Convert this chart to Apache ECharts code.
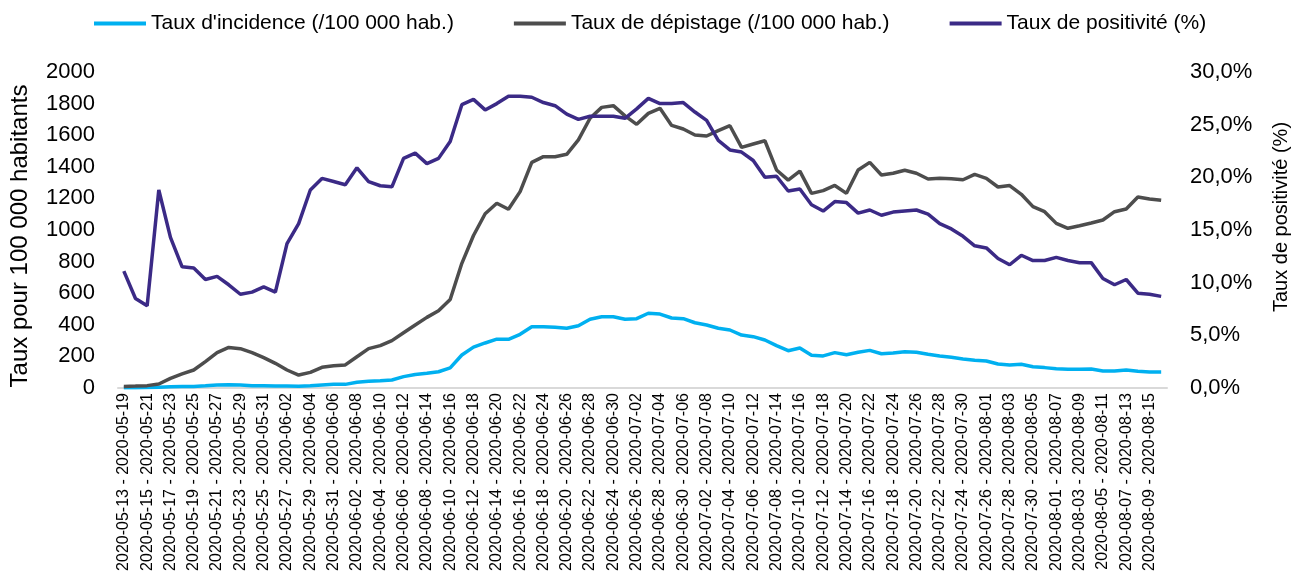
<!DOCTYPE html>
<html>
<head>
<meta charset="utf-8">
<script src="https://cdn.jsdelivr.net/npm/echarts@6/dist/echarts.min.js"></script>
<style>
  html, body { margin: 0; padding: 0; background: #fff; }
  #container { width: 1302px; height: 580px; }
</style>
</head>
<body>
<div id="container"></div>
<script>
// semaines glissantes (7 jours)
const categories = [
  '2020-05-13 - 2020-05-19', '2020-05-14 - 2020-05-20', '2020-05-15 - 2020-05-21', '2020-05-16 - 2020-05-22',
  '2020-05-17 - 2020-05-23', '2020-05-18 - 2020-05-24', '2020-05-19 - 2020-05-25', '2020-05-20 - 2020-05-26',
  '2020-05-21 - 2020-05-27', '2020-05-22 - 2020-05-28', '2020-05-23 - 2020-05-29', '2020-05-24 - 2020-05-30',
  '2020-05-25 - 2020-05-31', '2020-05-26 - 2020-06-01', '2020-05-27 - 2020-06-02', '2020-05-28 - 2020-06-03',
  '2020-05-29 - 2020-06-04', '2020-05-30 - 2020-06-05', '2020-05-31 - 2020-06-06', '2020-06-01 - 2020-06-07',
  '2020-06-02 - 2020-06-08', '2020-06-03 - 2020-06-09', '2020-06-04 - 2020-06-10', '2020-06-05 - 2020-06-11',
  '2020-06-06 - 2020-06-12', '2020-06-07 - 2020-06-13', '2020-06-08 - 2020-06-14', '2020-06-09 - 2020-06-15',
  '2020-06-10 - 2020-06-16', '2020-06-11 - 2020-06-17', '2020-06-12 - 2020-06-18', '2020-06-13 - 2020-06-19',
  '2020-06-14 - 2020-06-20', '2020-06-15 - 2020-06-21', '2020-06-16 - 2020-06-22', '2020-06-17 - 2020-06-23',
  '2020-06-18 - 2020-06-24', '2020-06-19 - 2020-06-25', '2020-06-20 - 2020-06-26', '2020-06-21 - 2020-06-27',
  '2020-06-22 - 2020-06-28', '2020-06-23 - 2020-06-29', '2020-06-24 - 2020-06-30', '2020-06-25 - 2020-07-01',
  '2020-06-26 - 2020-07-02', '2020-06-27 - 2020-07-03', '2020-06-28 - 2020-07-04', '2020-06-29 - 2020-07-05',
  '2020-06-30 - 2020-07-06', '2020-07-01 - 2020-07-07', '2020-07-02 - 2020-07-08', '2020-07-03 - 2020-07-09',
  '2020-07-04 - 2020-07-10', '2020-07-05 - 2020-07-11', '2020-07-06 - 2020-07-12', '2020-07-07 - 2020-07-13',
  '2020-07-08 - 2020-07-14', '2020-07-09 - 2020-07-15', '2020-07-10 - 2020-07-16', '2020-07-11 - 2020-07-17',
  '2020-07-12 - 2020-07-18', '2020-07-13 - 2020-07-19', '2020-07-14 - 2020-07-20', '2020-07-15 - 2020-07-21',
  '2020-07-16 - 2020-07-22', '2020-07-17 - 2020-07-23', '2020-07-18 - 2020-07-24', '2020-07-19 - 2020-07-25',
  '2020-07-20 - 2020-07-26', '2020-07-21 - 2020-07-27', '2020-07-22 - 2020-07-28', '2020-07-23 - 2020-07-29',
  '2020-07-24 - 2020-07-30', '2020-07-25 - 2020-07-31', '2020-07-26 - 2020-08-01', '2020-07-27 - 2020-08-02',
  '2020-07-28 - 2020-08-03', '2020-07-29 - 2020-08-04', '2020-07-30 - 2020-08-05', '2020-07-31 - 2020-08-06',
  '2020-08-01 - 2020-08-07', '2020-08-02 - 2020-08-08', '2020-08-03 - 2020-08-09', '2020-08-04 - 2020-08-10',
  '2020-08-05 - 2020-08-11', '2020-08-06 - 2020-08-12', '2020-08-07 - 2020-08-13', '2020-08-08 - 2020-08-14',
  '2020-08-09 - 2020-08-15', '2020-08-10 - 2020-08-16'
];

// Taux d'incidence (/100 000 hab.)
const incidence = [
  2, 2, 3, 5, 8, 10, 10, 14, 19, 21,
  19, 15, 14, 12, 12, 11, 14, 19, 23, 23,
  36, 42, 46, 51, 72, 86, 93, 103, 127, 209,
  259, 285, 309, 308, 340, 388, 388, 384, 378, 394,
  435, 451, 451, 435, 439, 473, 468, 443, 439, 413,
  399, 378, 367, 335, 325, 304, 268, 236, 253, 207,
  203, 224, 211, 226, 238, 217, 222, 230, 226, 213,
  203, 194, 184, 175, 171, 152, 146, 150, 135, 129,
  122, 118, 118, 120, 108, 108, 114, 106, 101, 101
];

// Taux de dépistage (/100 000 hab.)
const depistage = [
  10, 12, 15, 25, 61, 89, 114, 167, 224, 257,
  249, 224, 192, 156, 114, 82, 99, 131, 141, 146,
  198, 249, 268, 300, 350, 399, 447, 489, 560, 789,
  965, 1103, 1169, 1131, 1243, 1428, 1464, 1464, 1479, 1570,
  1707, 1776, 1787, 1722, 1669, 1738, 1770, 1662, 1639, 1601,
  1595, 1629, 1660, 1523, 1544, 1565, 1380, 1316, 1373, 1232,
  1249, 1282, 1232, 1380, 1428, 1348, 1359, 1378, 1359, 1323,
  1327, 1325, 1318, 1352, 1327, 1272, 1281, 1226, 1148, 1116,
  1042, 1011, 1027, 1044, 1063, 1116, 1133, 1209, 1196, 1188
];

// Taux de positivité (%)
const positivite = [
  11.1, 8.5, 7.8, 18.8, 14.3, 11.5, 11.4, 10.3, 10.6, 9.8,
  8.9, 9.1, 9.6, 9.1, 13.7, 15.6, 18.8, 19.9, 19.6, 19.3,
  20.9, 19.6, 19.2, 19.1, 21.8, 22.3, 21.3, 21.8, 23.4, 26.9,
  27.4, 26.4, 27.0, 27.7, 27.7, 27.6, 27.1, 26.8, 26.0, 25.5,
  25.8, 25.8, 25.8, 25.6, 26.5, 27.5, 27.0, 27.0, 27.1, 26.2,
  25.4, 23.5, 22.6, 22.4, 21.6, 20.0, 20.1, 18.7, 18.9, 17.4,
  16.8, 17.7, 17.6, 16.6, 16.9, 16.4, 16.7, 16.8, 16.9, 16.5,
  15.6, 15.1, 14.4, 13.5, 13.3, 12.3, 11.7, 12.6, 12.1, 12.1,
  12.4, 12.1, 11.9, 11.9, 10.4, 9.8, 10.3, 9.0, 8.9, 8.7
];

const FONT = "'Liberation Sans', Arial, sans-serif";

let chart = echarts.init(document.querySelector('#container'));
chart.setOption({
  animation: false,
  textStyle: { fontFamily: FONT, color: '#000' },
  color: ['#00b0f0', '#4d4d4d', '#3b2a86'],
  legend: {
    top: 8,
    left: 89,
    icon: 'rect',
    itemWidth: 52,
    itemHeight: 4,
    itemGap: 60,
    textStyle: { fontSize: 21, color: '#000', fontFamily: FONT },
    data: ["Taux d'incidence (/100 000 hab.)", 'Taux de dépistage (/100 000 hab.)', 'Taux de positivité (%)']
  },
  grid: { left: 115, right: 135, top: 72, bottom: 192 },
  xAxis: {
    type: 'category',
    data: categories,
    boundaryGap: true,
    axisLine: { lineStyle: { color: '#d9d9d9', width: 2 } },
    axisTick: { show: false },
    axisLabel: { interval: 1, rotate: 90, fontSize: 16, color: '#000', margin: 5, fontFamily: FONT }
  },
  yAxis: [
    {
      type: 'value',
      min: 0, max: 2000, interval: 200,
      name: 'Taux pour 100 000 habitants',
      nameLocation: 'middle',
      nameGap: 86,
      nameTextStyle: { fontSize: 24, color: '#000', fontFamily: FONT, padding: [0, 12, 0, 0] },
      splitLine: { show: false },
      axisLine: { show: false },
      axisTick: { show: false },
      axisLabel: { fontSize: 22, color: '#000', margin: 23, fontFamily: FONT, formatter: v => String(v) }
    },
    {
      type: 'value',
      min: 0, max: 30, interval: 5,
      name: 'Taux de positivité (%)',
      nameLocation: 'middle',
      nameGap: 104,
      nameTextStyle: { fontSize: 20, color: '#000', fontFamily: FONT, padding: [0, 0, 0, 26] },
      splitLine: { show: false },
      axisLine: { show: false },
      axisTick: { show: false },
      axisLabel: {
        fontSize: 22, color: '#000', margin: 23, fontFamily: FONT,
        formatter: v => v.toFixed(1).replace('.', ',') + '%'
      }
    }
  ],
  series: [
    {
      name: "Taux d'incidence (/100 000 hab.)",
      type: 'line', yAxisIndex: 0, data: incidence,
      symbol: 'none', lineStyle: { width: 3.5 }
    },
    {
      name: 'Taux de dépistage (/100 000 hab.)',
      type: 'line', yAxisIndex: 0, data: depistage,
      symbol: 'none', lineStyle: { width: 3.5 }
    },
    {
      name: 'Taux de positivité (%)',
      type: 'line', yAxisIndex: 1, data: positivite,
      symbol: 'none', lineStyle: { width: 3.5 }
    }
  ]
});
</script>
</body>
</html>
